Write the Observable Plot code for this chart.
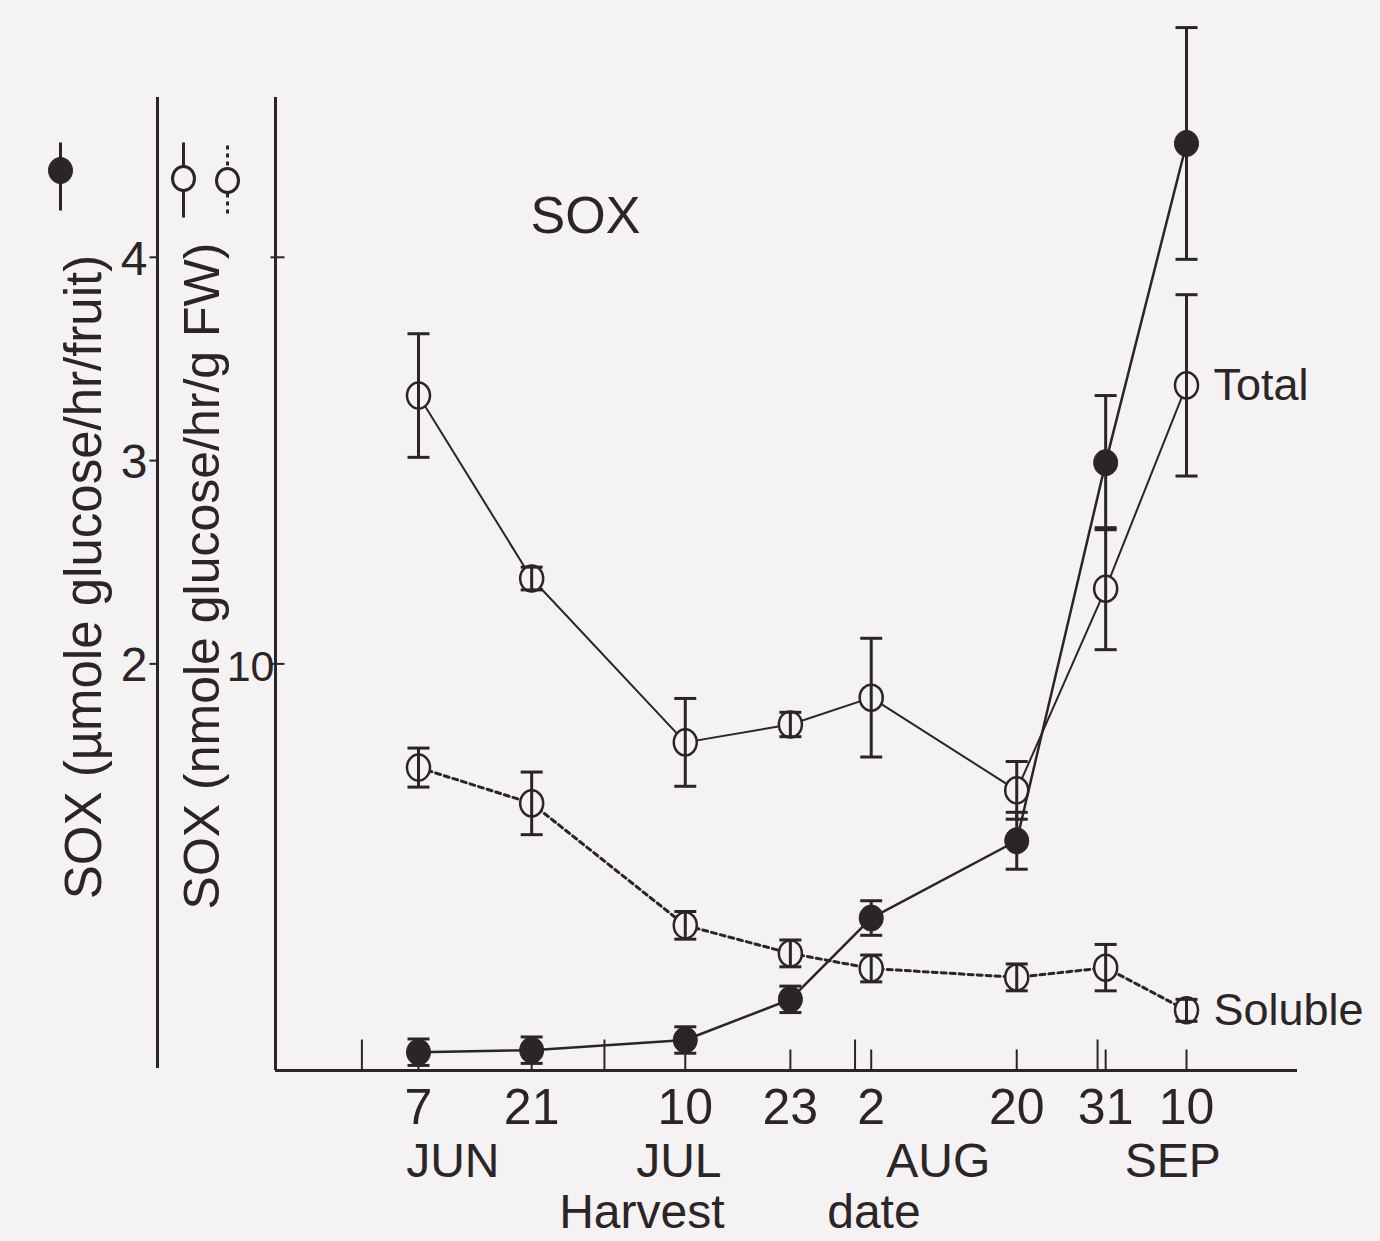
<!DOCTYPE html>
<html><head><meta charset="utf-8">
<script src="https://cdn.jsdelivr.net/npm/d3@7"></script>
<script src="https://cdn.jsdelivr.net/npm/@observablehq/plot@0.6"></script>
<style>html,body{margin:0;padding:0;background:#f4f2f2;} svg{display:block}</style>
</head><body><div id="chart"></div>
<script>
// ---- data ----
const harvestDates = ["2024-06-07","2024-06-21","2024-07-10","2024-07-23","2024-08-02","2024-08-20","2024-08-31","2024-09-10"];
const dayLabels = ["7","21","10","23","2","20","31","10"];
const monthNames = ["JUN","JUL","AUG","SEP"];
const monthLabelDates = ["2024-06-11T06:00Z","2024-07-09T05:00Z","2024-08-10T07:00Z","2024-09-08T07:00Z"];
const monthTickDates = ["2024-05-31","2024-06-30","2024-07-31","2024-08-30"];
const xTitleWords = ["Harvest","date"];
const xTitleDates = ["2024-07-04T15:00Z","2024-08-02T08:00Z"];
// Total SOX, nmole glucose/hr/g FW (open circles, solid line)
const totalNmol = [16.6,12.1,8.07,8.51,9.17,6.89,11.85,16.85];
const totalErr  = [1.52,0.28,1.08,0.30,1.46,0.71,1.50,2.23];
// Soluble SOX, nmole glucose/hr/g FW (open circles, dotted line)
const solubleNmol = [7.45,6.57,3.57,2.88,2.51,2.29,2.53,1.48];
const solubleErr  = [0.48,0.77,0.34,0.33,0.33,0.33,0.57,0.27];
// SOX, umole glucose/hr/fruit (filled circles)
const fruitUmol = [0.09,0.10,0.15,0.35,0.75,1.13,2.99,4.56];
const fruitErr  = [0.065,0.065,0.065,0.065,0.085,0.14,0.33,0.57];
// axes
const outerTicks = [2,3,4];          // umole/fruit
const innerTicks = [10,20];          // nmole/g FW
const innerTickLabels = ["10",""];
const nmolPerUmolUnit = 5;           // inner axis value = 5 x outer axis value
const yTitleOuter = "SOX (µmole glucose/hr/fruit)";
const yTitleInner = "SOX (nmole glucose/hr/g FW)";
const chartTitle = "SOX";

// ---- build ----
const ink = "#2b2527", bg = "#f4f2f2";
const P = d3.isoParse;
const rows = harvestDates.map((d, i) => ({
  date: P(d), day: dayLabels[i],
  total: totalNmol[i] / nmolPerUmolUnit, totalLo: (totalNmol[i] - totalErr[i]) / nmolPerUmolUnit, totalHi: (totalNmol[i] + totalErr[i]) / nmolPerUmolUnit,
  sol: solubleNmol[i] / nmolPerUmolUnit, solLo: (solubleNmol[i] - solubleErr[i]) / nmolPerUmolUnit, solHi: (solubleNmol[i] + solubleErr[i]) / nmolPerUmolUnit,
  fruit: fruitUmol[i], fruitLo: fruitUmol[i] - fruitErr[i], fruitHi: fruitUmol[i] + fruitErr[i]
}));
const months = monthNames.map((m, i) => ({name: m, date: P(monthLabelDates[i])}));
const monthTicks = monthTickDates.map(P);
const xTitle = xTitleWords.map((w, i) => ({w, date: P(xTitleDates[i])}));
const xDomain = [P("2024-05-20T07:30Z"), P("2024-09-23T17:30Z")];

const seg = (x0, y0, x1, y1) => ({draw(c) { c.moveTo(x0, y0); c.lineTo(x1, y1); }});
const ell = (rx, ry) => ({draw(c) {
  const k = 0.5523;
  c.moveTo(rx, 0);
  c.bezierCurveTo(rx, ry * k, rx * k, ry, 0, ry);
  c.bezierCurveTo(-rx * k, ry, -rx, ry * k, -rx, 0);
  c.bezierCurveTo(-rx, -ry * k, -rx * k, -ry, 0, -ry);
  c.bezierCurveTo(rx * k, -ry, rx, -ry * k, rx, 0);
  c.closePath();
}});
const cap = seg(-11, 0, 11, 0);
const outerDx = -118;
const marginLeft = 275, marginTop = 97;

function errorBars(lo, hi, w) {
  return [
    Plot.ruleX(rows, {x: "date", y1: lo, y2: hi, stroke: ink, strokeWidth: w}),
    Plot.dot(rows, {x: "date", y: lo, symbol: cap, fill: "none", stroke: ink, strokeWidth: w}),
    Plot.dot(rows, {x: "date", y: hi, symbol: cap, fill: "none", stroke: ink, strokeWidth: w})
  ];
}

const chart = Plot.plot({
  width: 1380, height: 1241,
  marginLeft, marginRight: 83, marginTop, marginBottom: 171,
  style: {background: bg, color: ink, fontFamily: "'Liberation Sans', Arimo, Arial, sans-serif"},
  x: {type: "utc", domain: xDomain, axis: null},
  y: {domain: [0, 4.786], axis: null},
  marks: [
    // axes lines
    Plot.ruleY([0], {stroke: ink, strokeWidth: 3}),
    Plot.ruleX([xDomain[0]], {stroke: ink, strokeWidth: 3}),
    Plot.ruleX([xDomain[0]], {stroke: ink, strokeWidth: 3, dx: outerDx, y1: 0.01, y2: 4.786}),
    // outer axis ticks + labels
    Plot.dot(outerTicks, {y: d => d, frameAnchor: "left", dx: outerDx, symbol: seg(-8, 0, 0, 0), fill: "none", stroke: ink, strokeWidth: 2}),
    Plot.text(outerTicks, {y: d => d, text: d => String(d), frameAnchor: "left", dx: outerDx - 10, dy: 2, textAnchor: "end", fontSize: 48, fill: ink}),
    // inner axis ticks + labels
    Plot.dot(innerTicks, {y: d => d / nmolPerUmolUnit, frameAnchor: "left", symbol: seg(-5, 0, 9, 0), fill: "none", stroke: ink, strokeWidth: 2}),
    Plot.text(innerTicks, {y: d => d / nmolPerUmolUnit, text: (d, i) => innerTickLabels[i], frameAnchor: "left", dx: -1, dy: 3, textAnchor: "end", fontSize: 43, fill: ink}),
    // x ticks
    Plot.dot(rows, {x: "date", frameAnchor: "bottom", symbol: seg(0, 0, 0, -21), fill: "none", stroke: ink, strokeWidth: 2}),
    Plot.dot(monthTicks, {x: d => d, frameAnchor: "bottom", symbol: seg(0, 0, 0, -31), fill: "none", stroke: ink, strokeWidth: 2}),
    Plot.text(rows, {x: "date", text: "day", frameAnchor: "bottom", dy: 53, lineAnchor: "bottom", fontSize: 50, fill: ink}),
    Plot.text(months, {x: "date", text: "name", frameAnchor: "bottom", dy: 106, lineAnchor: "bottom", fontSize: 48, fill: ink}),
    Plot.text(xTitle, {x: "date", text: "w", frameAnchor: "bottom", dy: 157, lineAnchor: "bottom", fontSize: 48, fill: ink}),
    // y titles
    Plot.text([yTitleOuter], {text: d => d, frameAnchor: "left", rotate: -90, dx: 100 - marginLeft, dy: -7, lineAnchor: "bottom", textAnchor: "middle", fontSize: 51, fill: ink}),
    Plot.text([yTitleInner], {text: d => d, frameAnchor: "left", rotate: -90, dx: 218 - marginLeft, dy: -8, lineAnchor: "bottom", textAnchor: "middle", fontSize: 50, fill: ink}),
    // legend glyphs
    Plot.dot([0], {frameAnchor: "top-left", dx: 60 - marginLeft, dy: 170 - marginTop, symbol: seg(0, -28, 0, 40), fill: "none", stroke: ink, strokeWidth: 3}),
    Plot.dot([0], {frameAnchor: "top-left", dx: 60 - marginLeft, dy: 170 - marginTop, symbol: ell(12, 13), fill: ink, stroke: ink, strokeWidth: 1}),
    Plot.dot([0], {frameAnchor: "top-left", dx: 183 - marginLeft, dy: 178 - marginTop, symbol: seg(0, -36, 0, 39), fill: "none", stroke: ink, strokeWidth: 3}),
    Plot.dot([0], {frameAnchor: "top-left", dx: 183 - marginLeft, dy: 178 - marginTop, symbol: ell(11, 12), fill: bg, stroke: ink, strokeWidth: 3}),
    Plot.dot([0], {frameAnchor: "top-left", dx: 227 - marginLeft, dy: 180 - marginTop, symbol: seg(0, -35, 0, 35), fill: "none", stroke: ink, strokeWidth: 3, strokeDasharray: "4,4"}),
    Plot.dot([0], {frameAnchor: "top-left", dx: 227 - marginLeft, dy: 180 - marginTop, symbol: ell(11, 12), fill: bg, stroke: ink, strokeWidth: 3}),
    // title
    Plot.text([chartTitle], {text: d => d, frameAnchor: "top-left", dx: 585 - marginLeft, dy: 232 - marginTop, lineAnchor: "bottom", textAnchor: "middle", fontSize: 52, fill: ink}),
    // series lines
    Plot.line(rows, {x: "date", y: "total", stroke: ink, strokeWidth: 2}),
    Plot.line(rows, {x: "date", y: "sol", stroke: ink, strokeWidth: 3, strokeDasharray: "5,4"}),
    Plot.dot(rows, {x: "date", y: "total", symbol: ell(11.5, 13), fill: bg, stroke: ink, strokeWidth: 2.5}),
    Plot.dot(rows, {x: "date", y: "sol", symbol: ell(11.5, 13), fill: bg, stroke: ink, strokeWidth: 2.5}),
    Plot.line(rows, {x: "date", y: "fruit", stroke: ink, strokeWidth: 2.5}),
    Plot.dot(rows, {x: "date", y: "fruit", symbol: ell(12, 13), fill: ink, stroke: ink, strokeWidth: 1}),
    ...errorBars("totalLo", "totalHi", 3),
    ...errorBars("solLo", "solHi", 3),
    ...errorBars("fruitLo", "fruitHi", 3),
    // series labels
    Plot.text(rows.slice(-1), {x: "date", y: "total", text: () => "Total", dx: 27, textAnchor: "start", fontSize: 45, fill: ink}),
    Plot.text(rows.slice(-1), {x: "date", y: "sol", text: () => "Soluble", dx: 27, textAnchor: "start", fontSize: 45, fill: ink})
  ]
});
document.getElementById("chart").appendChild(chart);
</script>
</body></html>
